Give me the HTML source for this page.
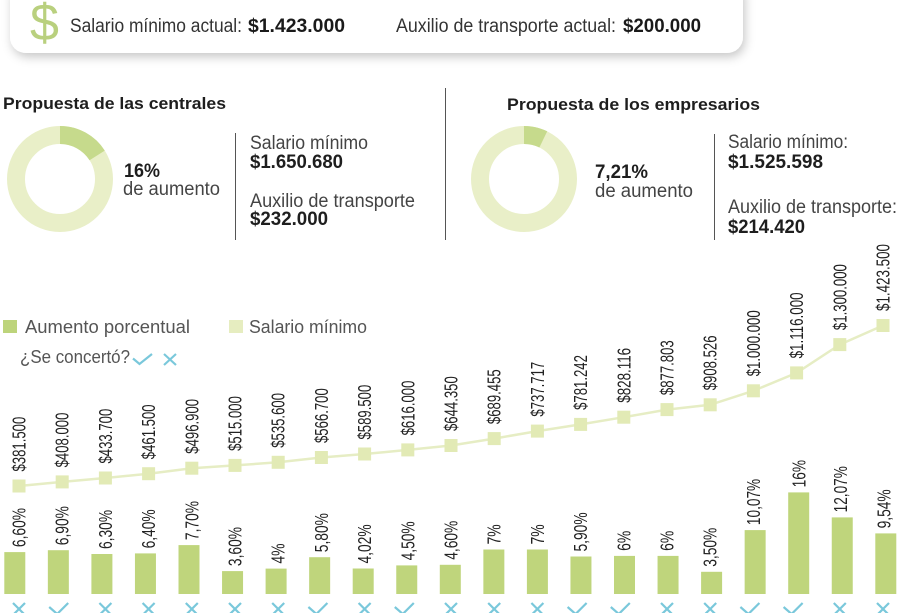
<!DOCTYPE html>
<html><head><meta charset="utf-8"><style>
html,body{margin:0;padding:0;background:#fff;}
svg{display:block;}
text{font-family:"Liberation Sans",sans-serif;}
</style></head><body>
<svg width="905" height="613" viewBox="0 0 905 613" xmlns="http://www.w3.org/2000/svg">
<defs>
<filter id="sh" x="-5%" y="-50%" width="110%" height="200%">
<feDropShadow dx="2" dy="4" stdDeviation="5" flood-color="#000" flood-opacity="0.22"/>
</filter>
</defs>
<!-- top box -->
<rect x="10" y="-20" width="733" height="73" rx="16" fill="#fff" filter="url(#sh)"/>
<text x="30" y="40" font-size="52" fill="#b9d07e">$</text>
<text x="70" y="32" font-size="19" fill="#333" textLength="172" lengthAdjust="spacingAndGlyphs">Salario mínimo actual:</text>
<text x="248" y="32" font-size="19" font-weight="bold" fill="#1a1a1a" textLength="97" lengthAdjust="spacingAndGlyphs">$1.423.000</text>
<text x="396" y="32" font-size="19" fill="#333" textLength="220" lengthAdjust="spacingAndGlyphs">Auxilio de transporte actual:</text>
<text x="623" y="32" font-size="19" font-weight="bold" fill="#1a1a1a" textLength="78" lengthAdjust="spacingAndGlyphs">$200.000</text>

<!-- left proposal -->
<text x="3" y="109" font-size="17" font-weight="bold" fill="#1e1e1e" textLength="223" lengthAdjust="spacingAndGlyphs">Propuesta de las centrales</text>
<circle cx="60" cy="179" r="44" fill="none" stroke="#e9efc8" stroke-width="18"/>
<path d="M60,135 A44,44 0 0 1 97.15,155.4" fill="none" stroke="#c6da8c" stroke-width="18"/>
<text x="124" y="177" font-size="19" font-weight="bold" fill="#1e1e1e" textLength="36" lengthAdjust="spacingAndGlyphs">16%</text>
<text x="123" y="195" font-size="19" fill="#444" textLength="97" lengthAdjust="spacingAndGlyphs">de aumento</text>
<line x1="235.5" y1="133" x2="235.5" y2="240" stroke="#555" stroke-width="1"/>
<text x="250" y="149" font-size="19" fill="#444" textLength="118" lengthAdjust="spacingAndGlyphs">Salario mínimo</text>
<text x="250" y="168" font-size="19" font-weight="bold" fill="#1e1e1e" textLength="93" lengthAdjust="spacingAndGlyphs">$1.650.680</text>
<text x="250" y="207" font-size="19" fill="#444" textLength="165" lengthAdjust="spacingAndGlyphs">Auxilio de transporte</text>
<text x="250" y="225" font-size="19" font-weight="bold" fill="#1e1e1e" textLength="78" lengthAdjust="spacingAndGlyphs">$232.000</text>
<line x1="445.5" y1="88" x2="445.5" y2="240" stroke="#555" stroke-width="1"/>

<!-- right proposal -->
<text x="507" y="110" font-size="17" font-weight="bold" fill="#1e1e1e" textLength="253" lengthAdjust="spacingAndGlyphs">Propuesta de los empresarios</text>
<circle cx="524" cy="179" r="44" fill="none" stroke="#e9efc8" stroke-width="18"/>
<path d="M524,135 A44,44 0 0 1 543.3,139.4" fill="none" stroke="#c6da8c" stroke-width="18"/>
<text x="595" y="178" font-size="19" font-weight="bold" fill="#1e1e1e" textLength="53" lengthAdjust="spacingAndGlyphs">7,21%</text>
<text x="595" y="197" font-size="19" fill="#444" textLength="98" lengthAdjust="spacingAndGlyphs">de aumento</text>
<line x1="714.5" y1="134" x2="714.5" y2="240" stroke="#555" stroke-width="1"/>
<text x="728" y="148" font-size="19" fill="#444" textLength="120" lengthAdjust="spacingAndGlyphs">Salario mínimo:</text>
<text x="728" y="168" font-size="19" font-weight="bold" fill="#1e1e1e" textLength="95" lengthAdjust="spacingAndGlyphs">$1.525.598</text>
<text x="728" y="213" font-size="19" fill="#444" textLength="169" lengthAdjust="spacingAndGlyphs">Auxilio de transporte:</text>
<text x="728" y="233" font-size="19" font-weight="bold" fill="#1e1e1e" textLength="77" lengthAdjust="spacingAndGlyphs">$214.420</text>

<!-- legend -->
<rect x="3" y="320" width="14" height="13" fill="#bdd47b"/>
<text x="25" y="333" font-size="18" fill="#555" textLength="165" lengthAdjust="spacingAndGlyphs">Aumento porcentual</text>
<rect x="229" y="320" width="14" height="13" fill="#e6edc0"/>
<text x="249" y="333" font-size="18" fill="#555" textLength="118" lengthAdjust="spacingAndGlyphs">Salario mínimo</text>
<text x="20" y="363" font-size="18" fill="#555" textLength="110" lengthAdjust="spacingAndGlyphs">¿Se concertó?</text>
<path d="M133,358.5 L139.5,364 L152,354" fill="none" stroke="#7ac8db" stroke-width="2.2"/>
<path d="M164,354 L176,365 M176,354 L164,365" fill="none" stroke="#7ac8db" stroke-width="2.2"/>

<!-- line -->
<polyline fill="none" stroke="#e6edc4" stroke-width="2.5" points="19,486 62.2,481.9 105.4,478 148.6,473.7 191.8,468.2 235,465.4 278.2,462.3 321.4,457.5 364.6,454 407.8,449.9 451,445.5 494.2,438.6 537.4,431.1 580.6,424.4 623.8,417.2 667,409.6 710.2,404.8 753.4,390.8 796.6,372.9 839.8,344.6 883,325.5"/>
<g fill="#e2eab5">
<rect x="12.5" y="479.5" width="13" height="13"/>
<rect x="55.7" y="475.4" width="13" height="13"/>
<rect x="98.9" y="471.5" width="13" height="13"/>
<rect x="142.1" y="467.2" width="13" height="13"/>
<rect x="185.3" y="461.7" width="13" height="13"/>
<rect x="228.5" y="458.9" width="13" height="13"/>
<rect x="271.7" y="455.8" width="13" height="13"/>
<rect x="314.9" y="451" width="13" height="13"/>
<rect x="358.1" y="447.5" width="13" height="13"/>
<rect x="401.3" y="443.4" width="13" height="13"/>
<rect x="444.5" y="439" width="13" height="13"/>
<rect x="487.7" y="432.1" width="13" height="13"/>
<rect x="530.9" y="424.6" width="13" height="13"/>
<rect x="574.1" y="417.9" width="13" height="13"/>
<rect x="617.3" y="410.7" width="13" height="13"/>
<rect x="660.5" y="403.1" width="13" height="13"/>
<rect x="703.7" y="398.3" width="13" height="13"/>
<rect x="746.9" y="384.3" width="13" height="13"/>
<rect x="790.1" y="366.4" width="13" height="13"/>
<rect x="833.3" y="338.1" width="13" height="13"/>
<rect x="876.5" y="319" width="13" height="13"/>
</g>
<g font-size="18" fill="#222">
<text transform="translate(25.5,471.5) rotate(-90)" textLength="54.8" lengthAdjust="spacingAndGlyphs">$381.500</text>
<text transform="translate(68.7,467.4) rotate(-90)" textLength="54.8" lengthAdjust="spacingAndGlyphs">$408.000</text>
<text transform="translate(111.9,463.5) rotate(-90)" textLength="54.8" lengthAdjust="spacingAndGlyphs">$433.700</text>
<text transform="translate(155.1,459.2) rotate(-90)" textLength="54.8" lengthAdjust="spacingAndGlyphs">$461.500</text>
<text transform="translate(198.3,453.7) rotate(-90)" textLength="54.8" lengthAdjust="spacingAndGlyphs">$496.900</text>
<text transform="translate(241.5,450.9) rotate(-90)" textLength="54.8" lengthAdjust="spacingAndGlyphs">$515.000</text>
<text transform="translate(284.7,447.8) rotate(-90)" textLength="54.8" lengthAdjust="spacingAndGlyphs">$535.600</text>
<text transform="translate(327.9,443) rotate(-90)" textLength="54.8" lengthAdjust="spacingAndGlyphs">$566.700</text>
<text transform="translate(371.1,439.5) rotate(-90)" textLength="54.8" lengthAdjust="spacingAndGlyphs">$589.500</text>
<text transform="translate(414.3,435.4) rotate(-90)" textLength="54.8" lengthAdjust="spacingAndGlyphs">$616.000</text>
<text transform="translate(457.5,431) rotate(-90)" textLength="54.8" lengthAdjust="spacingAndGlyphs">$644.350</text>
<text transform="translate(500.7,424.1) rotate(-90)" textLength="54.8" lengthAdjust="spacingAndGlyphs">$689.455</text>
<text transform="translate(543.9,416.6) rotate(-90)" textLength="54.8" lengthAdjust="spacingAndGlyphs">$737.717</text>
<text transform="translate(587.1,409.9) rotate(-90)" textLength="54.8" lengthAdjust="spacingAndGlyphs">$781.242</text>
<text transform="translate(630.3,402.7) rotate(-90)" textLength="54.8" lengthAdjust="spacingAndGlyphs">$828.116</text>
<text transform="translate(673.5,395.1) rotate(-90)" textLength="54.8" lengthAdjust="spacingAndGlyphs">$877.803</text>
<text transform="translate(716.7,390.3) rotate(-90)" textLength="54.8" lengthAdjust="spacingAndGlyphs">$908.526</text>
<text transform="translate(759.9,376.3) rotate(-90)" textLength="66" lengthAdjust="spacingAndGlyphs">$1.000.000</text>
<text transform="translate(803.1,358.4) rotate(-90)" textLength="66" lengthAdjust="spacingAndGlyphs">$1.116.000</text>
<text transform="translate(846.3,330.1) rotate(-90)" textLength="66" lengthAdjust="spacingAndGlyphs">$1.300.000</text>
<text transform="translate(889.5,311) rotate(-90)" textLength="67" lengthAdjust="spacingAndGlyphs">$1.423.500</text>
</g>

<!-- bars -->
<g fill="#bfd57c">
<rect x="4.3" y="552.1" width="21" height="41.9"/>
<rect x="47.85" y="550.2" width="21" height="43.8"/>
<rect x="91.4" y="554" width="21" height="40"/>
<rect x="134.95" y="553.4" width="21" height="40.6"/>
<rect x="178.5" y="545.1" width="21" height="48.9"/>
<rect x="222.05" y="571.1" width="21" height="22.9"/>
<rect x="265.6" y="568.6" width="21" height="25.4"/>
<rect x="309.15" y="557.2" width="21" height="36.8"/>
<rect x="352.7" y="568.5" width="21" height="25.5"/>
<rect x="396.25" y="565.4" width="21" height="28.6"/>
<rect x="439.8" y="564.8" width="21" height="29.2"/>
<rect x="483.35" y="549.5" width="21" height="44.5"/>
<rect x="526.9" y="549.5" width="21" height="44.5"/>
<rect x="570.45" y="556.5" width="21" height="37.5"/>
<rect x="614" y="555.9" width="21" height="38.1"/>
<rect x="657.55" y="555.9" width="21" height="38.1"/>
<rect x="701.1" y="571.8" width="21" height="22.2"/>
<rect x="744.65" y="530.1" width="21" height="63.9"/>
<rect x="788.2" y="492.4" width="21" height="101.6"/>
<rect x="831.75" y="517.4" width="21" height="76.6"/>
<rect x="875.3" y="533.4" width="21" height="60.6"/>
</g>
<g font-size="18" fill="#222">
<text transform="translate(25.5,547.1) rotate(-90)" textLength="39.1" lengthAdjust="spacingAndGlyphs">6,60%</text>
<text transform="translate(68.7,545.2) rotate(-90)" textLength="39.1" lengthAdjust="spacingAndGlyphs">6,90%</text>
<text transform="translate(111.9,549) rotate(-90)" textLength="39.1" lengthAdjust="spacingAndGlyphs">6,30%</text>
<text transform="translate(155.1,548.4) rotate(-90)" textLength="39.1" lengthAdjust="spacingAndGlyphs">6,40%</text>
<text transform="translate(198.3,540.1) rotate(-90)" textLength="39.1" lengthAdjust="spacingAndGlyphs">7,70%</text>
<text transform="translate(241.5,566.1) rotate(-90)" textLength="39.1" lengthAdjust="spacingAndGlyphs">3,60%</text>
<text transform="translate(284.7,563.6) rotate(-90)" textLength="20.2" lengthAdjust="spacingAndGlyphs">4%</text>
<text transform="translate(327.9,552.2) rotate(-90)" textLength="39.1" lengthAdjust="spacingAndGlyphs">5,80%</text>
<text transform="translate(371.1,563.5) rotate(-90)" textLength="39.1" lengthAdjust="spacingAndGlyphs">4,02%</text>
<text transform="translate(414.3,560.4) rotate(-90)" textLength="39.1" lengthAdjust="spacingAndGlyphs">4,50%</text>
<text transform="translate(457.5,559.8) rotate(-90)" textLength="39.1" lengthAdjust="spacingAndGlyphs">4,60%</text>
<text transform="translate(500.7,544.5) rotate(-90)" textLength="20.2" lengthAdjust="spacingAndGlyphs">7%</text>
<text transform="translate(543.9,544.5) rotate(-90)" textLength="20.2" lengthAdjust="spacingAndGlyphs">7%</text>
<text transform="translate(587.1,551.5) rotate(-90)" textLength="39.1" lengthAdjust="spacingAndGlyphs">5,90%</text>
<text transform="translate(630.3,550.9) rotate(-90)" textLength="20.2" lengthAdjust="spacingAndGlyphs">6%</text>
<text transform="translate(673.5,550.9) rotate(-90)" textLength="20.2" lengthAdjust="spacingAndGlyphs">6%</text>
<text transform="translate(716.7,566.8) rotate(-90)" textLength="39.1" lengthAdjust="spacingAndGlyphs">3,50%</text>
<text transform="translate(759.9,525.1) rotate(-90)" textLength="46.3" lengthAdjust="spacingAndGlyphs">10,07%</text>
<text transform="translate(805.5,487.4) rotate(-90)" textLength="27.4" lengthAdjust="spacingAndGlyphs">16%</text>
<text transform="translate(847,512.4) rotate(-90)" textLength="46.3" lengthAdjust="spacingAndGlyphs">12,07%</text>
<text transform="translate(890.5,528.4) rotate(-90)" textLength="39.1" lengthAdjust="spacingAndGlyphs">9,54%</text>
</g>

<!-- icons -->
<g fill="none" stroke="#7ac8db" stroke-width="2.2">
<path d="M13,603 L25,615 M25,603 L13,615"/>
<path d="M49.2,607 L57.2,614 L68.2,603"/>
<path d="M99.4,603 L111.4,615 M111.4,603 L99.4,615"/>
<path d="M142.6,603 L154.6,615 M154.6,603 L142.6,615"/>
<path d="M185.8,603 L197.8,615 M197.8,603 L185.8,615"/>
<path d="M229,603 L241,615 M241,603 L229,615"/>
<path d="M272.2,603 L284.2,615 M284.2,603 L272.2,615"/>
<path d="M308.4,607 L316.4,614 L327.4,603"/>
<path d="M358.6,603 L370.6,615 M370.6,603 L358.6,615"/>
<path d="M394.8,607 L402.8,614 L413.8,603"/>
<path d="M445,603 L457,615 M457,603 L445,615"/>
<path d="M488.2,603 L500.2,615 M500.2,603 L488.2,615"/>
<path d="M531.4,603 L543.4,615 M543.4,603 L531.4,615"/>
<path d="M567.6,607 L575.6,614 L586.6,603"/>
<path d="M610.8,607 L618.8,614 L629.8,603"/>
<path d="M661,603 L673,615 M673,603 L661,615"/>
<path d="M704.2,603 L716.2,615 M716.2,603 L704.2,615"/>
<path d="M740.4,607 L748.4,614 L759.4,603"/>
<path d="M783.6,607 L791.6,614 L802.6,603"/>
<path d="M833.8,603 L845.8,615 M845.8,603 L833.8,615"/>
<path d="M877,603 L889,615 M889,603 L877,615"/>
</g>
</svg>
</body></html>
